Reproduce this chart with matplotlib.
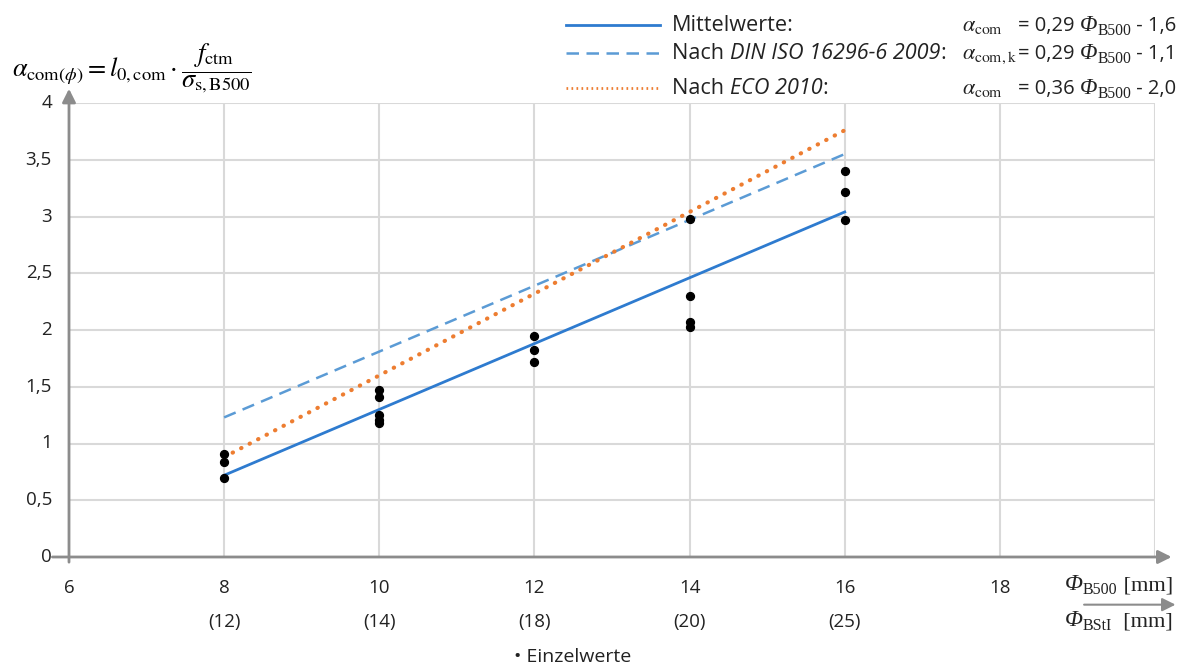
import numpy as np
import matplotlib
matplotlib.use("Agg")
import matplotlib.pyplot as plt
from matplotlib.lines import Line2D

plt.rcParams['font.family'] = ['Open Sans', 'DejaVu Sans']
plt.rcParams['mathtext.fontset'] = 'stix'

# Einzelwerte (Phi_B500 [mm], alpha_com)
x_pts = [8, 8, 8, 10, 10, 10, 10, 10, 12, 12, 12, 14, 14, 14, 14, 16, 16, 16]
y_pts = [0.91, 0.84, 0.70, 1.47, 1.41, 1.25, 1.21, 1.18, 1.95, 1.82, 1.72,
         2.98, 2.30, 2.07, 2.03, 3.40, 3.22, 2.97]

# Regressionsgeraden (Endpunkte bei 8 und 16 mm)
x_line = [8, 16]
y_mittel = [0.72, 3.04]
y_din = [1.23, 3.55]
y_eco = [0.88, 3.76]

x_ticks = [6, 8, 10, 12, 14, 16, 18]
x_ticks_bstl = ['(12)', '(14)', '(18)', '(20)', '(25)']
y_ticks = [0, 0.5, 1, 1.5, 2, 2.5, 3, 3.5, 4]
y_labels = ['0', '0,5', '1', '1,5', '2', '2,5', '3', '3,5', '4']

c_mittel = '#2E7BCF'
c_din = '#5B9BD5'
c_eco = '#ED7D31'
c_axis = '#8C8C8C'
c_text = '#222222'
serif = 'Liberation Serif'

W, H = 1198, 664
fig = plt.figure(figsize=(W / 100, H / 100), dpi=100)
ax = fig.add_axes([69 / W, 1 - 557 / H, (1155 - 69) / W, (557 - 103) / H])
ax.set_xlim(6, 20)
ax.set_ylim(0, 4)

# Gitter
for gx in range(8, 21, 2):
    ax.plot([gx, gx], [0, 4], color='#D9D9D9', lw=1.5, zorder=0)
for gy in y_ticks[1:]:
    ax.plot([6, 20], [gy, gy], color='#D9D9D9', lw=1.5, zorder=0)

for s in ax.spines.values():
    s.set_visible(False)
ax.set_xticks([])
ax.set_yticks([])

# Achsen mit Pfeilen
ax.annotate('', xy=(20.25, 0), xytext=(5.75, 0),
            arrowprops=dict(arrowstyle='-|>', color=c_axis, lw=2, mutation_scale=20),
            annotation_clip=False)
ax.annotate('', xy=(6, 4.15), xytext=(6, -0.07),
            arrowprops=dict(arrowstyle='-|>', color=c_axis, lw=2, mutation_scale=20),
            annotation_clip=False)
ax.annotate('', xy=(20.3, -0.42), xytext=(19.05, -0.42),
            arrowprops=dict(arrowstyle='-|>', color=c_axis, lw=1.5, mutation_scale=20),
            annotation_clip=False)

for t, lab in zip(y_ticks, y_labels):
    ax.text(5.78, t, lab, ha='right', va='center', fontsize=13.5, color=c_text)
for t in x_ticks:
    ax.text(t, -0.275, str(t), ha='center', va='center', fontsize=13.5, color=c_text)
for t, lab in zip(x_ticks[1:6], x_ticks_bstl):
    ax.text(t, -0.575, lab, ha='center', va='center', fontsize=13.5, color=c_text)

# Linien und Punkte
ax.plot(x_line, y_mittel, color=c_mittel, lw=2, zorder=3)
ax.plot(x_line, y_din, color=c_din, lw=1.8, ls=(0, (5, 3)), zorder=3)
ax.plot(x_line, y_eco, color=c_eco, lw=3, ls=(0, (0.1, 2.2)), dash_capstyle='round', zorder=3)
ax.scatter(x_pts, y_pts, s=32, color='black', zorder=4)

# y-Achsentitel
fig.text(12 / W, 1 - 68 / H,
         r'$\alpha_{\mathrm{com}(\phi)} = l_{0,\mathrm{com}} \cdot \dfrac{f_{\mathrm{ctm}}}{\sigma_{\mathrm{s,B500}}}$',
         ha='left', va='center', fontsize=19)

renderer = fig.canvas.get_renderer()


def put_row(x0, y, parts):
    # parts: (text, dict) nacheinander in einer Zeile, y = Grundlinie in Pixeln
    x = x0
    for txt, kw in parts:
        opts = dict(kw)
        if 'at' in opts:
            x = opts.pop('at')
        dy = opts.pop('dy', 0)
        t = fig.text(x / W, 1 - (y + dy) / H, txt, va='baseline', color=c_text, **opts)
        x = t.get_window_extent(renderer).x1


def phi_parts(sub, rest, fs):
    return [('\u03a6', dict(fontsize=fs, family=serif, style='italic')),
            (sub, dict(fontsize=fs * 0.68, family=serif, dy=4)),
            (rest, dict(fontsize=fs * 0.95, family=serif))]


# x-Achsentitel
put_row(1065, 590, phi_parts('B500', ' [mm]', 17))
put_row(1065, 626, phi_parts('BStI', '  [mm]', 17))

# Legende oben
leg_y = [25, 53, 88]
styles = [dict(color=c_mittel, lw=2, ls='-'),
          dict(color=c_din, lw=1.8, ls=(0, (5, 3))),
          dict(color=c_eco, lw=2, ls=(0, (0.6, 1.2)))]
for yy, st in zip(leg_y, styles):
    fig.add_artist(Line2D([566 / W, 660 / W], [1 - yy / H, 1 - yy / H], **st))

base = 6
fs = 15.6
put_row(672, leg_y[0] + base, [('Mittelwerte:', dict(fontsize=fs))])
put_row(672, leg_y[1] + base, [('Nach ', dict(fontsize=fs)),
                               ('DIN ISO 16296-6 2009', dict(fontsize=fs, style='italic')),
                               (':', dict(fontsize=fs))])
put_row(672, leg_y[2] + base, [('Nach ', dict(fontsize=fs)),
                               ('ECO 2010', dict(fontsize=fs, style='italic')),
                               (':', dict(fontsize=fs))])

formulas = [(r'$\alpha_{\mathrm{com}}$', '= 0,29 ', ' - 1,6'),
            (r'$\alpha_{\mathrm{com,k}}$', '= 0,29 ', ' - 1,1'),
            (r'$\alpha_{\mathrm{com}}$', '= 0,36 ', ' - 2,0')]
for yy, (alpha, coef, const) in zip(leg_y, formulas):
    put_row(962, yy + base, [(alpha, dict(fontsize=16)),
                             (coef, dict(fontsize=14.5, at=1018))]
            + phi_parts('B500', '', 16.5)[:2]
            + [(const, dict(fontsize=14.5))])

# Legende unten
fig.text(514 / W, 1 - 657 / H, '\u2022 Einzelwerte', va='center', fontsize=14, color=c_text)

fig.savefig('out.png', dpi=100)
